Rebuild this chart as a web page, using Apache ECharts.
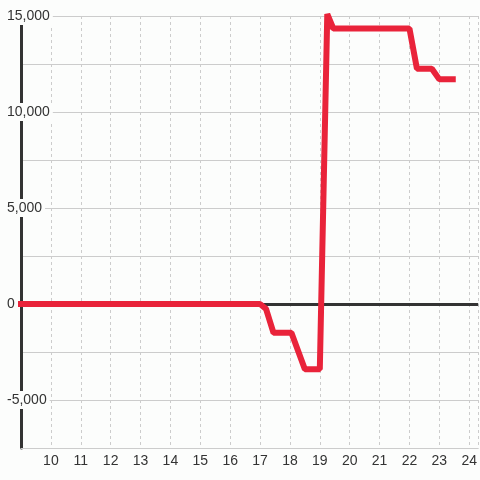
<!DOCTYPE html>
<html>
<head>
<meta charset="utf-8">
<script src="https://cdn.jsdelivr.net/npm/echarts@6/dist/echarts.min.js"></script>
<style>
  html, body { margin: 0; padding: 0; background: #fcfdfc; }
  #chart { width: 480px; height: 480px; }
</style>
</head>
<body>
<div id="chart"></div>
<script>
  // hour of day vs running value
  const hours = [8.5, 17, 17.2, 17.45, 18.05, 18.5, 19, 19.25, 19.45, 22, 22.25, 22.75, 23, 23.55];
  const values = [0, 0, -250, -1500, -1500, -3400, -3400, 15100, 14350, 14350, 12250, 12250, 11700, 11700];
  const yLabelValues = [15000, 10000, 5000, 0, -5000];

  const bg = '#fcfdfc';
  const font = 'Liberation Sans, Arial, sans-serif';

  let chart = echarts.init(document.getElementById('chart'));

  let option = {
    backgroundColor: bg,
    animation: false,
    grid: {
      left: 21,
      right: 0,
      top: 16,
      bottom: 32,
      containLabel: false
    },
    xAxis: {
      type: 'value',
      min: 9,
      max: 24.3,
      interval: 1,
      axisLine: {
        onZero: false,
        lineStyle: { color: '#cccccc', width: 1 }
      },
      axisTick: { show: false },
      axisLabel: {
        showMinLabel: false,
        showMaxLabel: false,
        margin: 6,
        color: '#333333',
        fontSize: 14,
        fontFamily: font
      },
      splitLine: {
        show: true,
        lineStyle: { color: '#cccccc', type: [3, 3], width: 1 }
      }
    },
    yAxis: {
      type: 'value',
      min: -7500,
      max: 15000,
      interval: 2500,
      axisLine: {
        show: true,
        lineStyle: { color: '#333333', width: 3 }
      },
      axisTick: { show: false },
      axisLabel: {
        margin: 15,
        align: 'left',
        formatter: function (value) {
          if (yLabelValues.indexOf(value) === -1) {
            return '';
          }
          return '{a|' + value.toLocaleString('en-US') + '}';
        },
        rich: {
          a: {
            color: '#333333',
            fontSize: 14,
            fontFamily: font,
            lineHeight: 16,
            backgroundColor: bg,
            padding: [2, 3, 2, 1]
          }
        }
      },
      splitLine: {
        lineStyle: { color: '#cccccc', width: 1 }
      }
    },
    series: [
      {
        type: 'line',
        data: hours.map((h, i) => [h, values[i]]),
        showSymbol: false,
        clip: true,
        lineStyle: {
          color: '#e9233a',
          width: 6
        },
        markLine: {
          z: 1,
          silent: true,
          symbol: ['none', 'none'],
          label: { show: false },
          lineStyle: { color: '#333333', width: 3, type: 'solid' },
          data: [{ yAxis: 0 }]
        }
      }
    ]
  };

  chart.setOption(option);
</script>
</body>
</html>
